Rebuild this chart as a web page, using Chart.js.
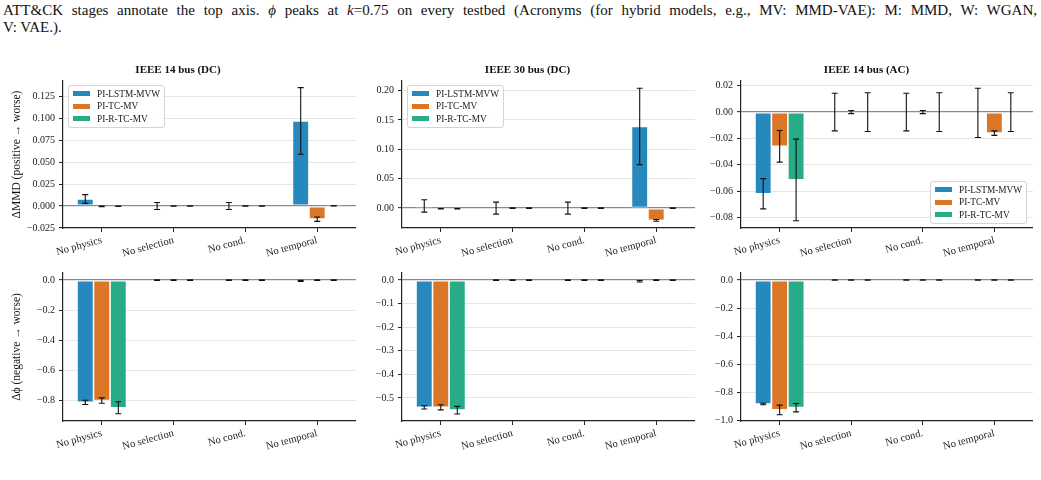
<!DOCTYPE html>
<html><head><meta charset="utf-8">
<script src="https://cdn.jsdelivr.net/npm/chart.js@4.4.1/dist/chart.umd.min.js"></script>
<style>
html,body{margin:0;padding:0;background:#fff;}
body{width:1041px;height:480px;position:relative;overflow:hidden;font-family:"Liberation Serif","DejaVu Serif","Times New Roman",serif;}
.cap{position:absolute;left:3px;width:1034px;font-size:15px;color:#111;line-height:17px;white-space:nowrap;}
#cap1{top:2px;text-align:justify;text-align-last:justify;white-space:normal;}
#cap2{top:19px;}
canvas{position:absolute;}
.lg{position:absolute;border:1px solid #d4d4d4;border-radius:3px;background:rgba(255,255,255,0.85);padding:1.5px 4px 2px 4px;font-size:9.3px;color:#222;font-family:"Liberation Serif","DejaVu Serif",serif;}
.lg .row{height:12.6px;display:flex;align-items:center;white-space:nowrap;}
.lg .sw{width:17px;height:5px;margin-right:7px;}
</style></head><body>
<div class="cap" id="cap1">ATT&amp;CK stages annotate the top axis. <i>ϕ</i> peaks at <i>k</i>=0.75 on every testbed (Acronyms (for hybrid models, e.g., MV: MMD-VAE): M: MMD, W: WGAN,</div>
<div class="cap" id="cap2">V: VAE.).</div>
<canvas id="c1"></canvas><canvas id="c2"></canvas><canvas id="c3"></canvas>
<canvas id="c4"></canvas><canvas id="c5"></canvas><canvas id="c6"></canvas>
<script>
// ---------- data ----------
const categories = ['No physics', 'No selection', 'No cond.', 'No temporal'];
const seriesNames = ['PI-LSTM-MVW', 'PI-TC-MV', 'PI-R-TC-MV'];
const panelTitles = ['IEEE 14 bus (DC)', 'IEEE 30 bus (DC)', 'IEEE 14 bus (AC)'];
const mmdLabel = 'ΔMMD (positive → worse)';
const phiLabel = 'Δϕ (negative → worse)';

// ΔMMD means / std (rows: PI-LSTM-MVW, PI-TC-MV, PI-R-TC-MV)
const mmd14dcMean = [[0.008, 0.0, 0.0, 0.097], [-0.0005, 0.0, 0.0, -0.015], [-0.0003, 0.0, 0.0, 0.0003]];
const mmd14dcErr  = [[0.005, 0.004, 0.004, 0.038], [0.0003, 0.0003, 0.0003, 0.0025], [0.0003, 0.0003, 0.0003, 0.0003]];
const mmd30dcMean = [[0.0037, 0.0, 0.0, 0.139], [-0.001, 0.0, 0.0, -0.021], [-0.001, 0.0, 0.0, 0.0]];
const mmd30dcErr  = [[0.0105, 0.0102, 0.0102, 0.065], [0.0004, 0.0004, 0.0004, 0.0015], [0.0004, 0.0004, 0.0004, 0.0004]];
const mmd14acMean = [[-0.062, 0.0, 0.0, -0.0006], [-0.026, 0.0, 0.0, -0.016], [-0.0515, 0.0, 0.0, 0.0]];
const mmd14acErr  = [[0.0115, 0.0143, 0.0143, 0.0187], [0.012, 0.0012, 0.0012, 0.0017], [0.031, 0.0147, 0.0147, 0.0147]];
// Δϕ means / std
const phi14dcMean = [[-0.816, 0.0, 0.0, -0.006], [-0.804, 0.0, 0.0, 0.0], [-0.852, 0.0, 0.0, 0.0]];
const phi14dcErr  = [[0.014, 0.002, 0.002, 0.004], [0.018, 0.002, 0.002, 0.002], [0.04, 0.002, 0.002, 0.002]];
const phi30dcMean = [[-0.54, 0.0, 0.0, -0.005], [-0.54, 0.0, 0.0, 0.0], [-0.552, 0.0, 0.0, 0.0]];
const phi30dcErr  = [[0.007, 0.0015, 0.0015, 0.003], [0.011, 0.0015, 0.0015, 0.0015], [0.016, 0.0015, 0.0015, 0.0015]];
const phi14acMean = [[-0.882, 0.0, 0.0, 0.0], [-0.924, 0.0, 0.0, 0.0], [-0.908, 0.0, 0.0, 0.0]];
const phi14acErr  = [[0.005, 0.002, 0.002, 0.002], [0.034, 0.002, 0.002, 0.002], [0.03, 0.002, 0.002, 0.002]];

// ---------- styles / layout ----------
const seriesColors = ['#2788bd', '#db7626', '#28ac88'];
const FONT = '"Liberation Serif", "DejaVu Serif", serif';
const cols = [{left: 0, width: 356, yW: 63}, {left: 360, width: 335, yW: 42}, {left: 700, width: 333, yW: 41}];
const rows = [{top: 60, height: 206, padTop: 0, xH: 38}, {top: 262, height: 208, padTop: 11, xH: 49}];

const panels = [
  {id: 'c1', r: 0, c: 0, mean: mmd14dcMean, err: mmd14dcErr, min: -0.0251, max: 0.1426, step: 0.025, dec: 3, title: panelTitles[0], ylabel: mmdLabel, legend: 'tl'},
  {id: 'c2', r: 0, c: 1, mean: mmd30dcMean, err: mmd30dcErr, min: -0.0339, max: 0.2164, step: 0.05, dec: 2, title: panelTitles[1], legend: 'tl'},
  {id: 'c3', r: 0, c: 2, mean: mmd14acMean, err: mmd14acErr, min: -0.088, max: 0.0236, step: 0.02, dec: 2, title: panelTitles[2], legend: 'br'},
  {id: 'c4', r: 1, c: 0, mean: phi14dcMean, err: phi14dcErr, min: -0.94, max: 0.047, step: 0.2, dec: 1, ylabel: phiLabel},
  {id: 'c5', r: 1, c: 1, mean: phi30dcMean, err: phi30dcErr, min: -0.598, max: 0.03, step: 0.1, dec: 1},
  {id: 'c6', r: 1, c: 2, mean: phi14acMean, err: phi14acErr, min: -1.003, max: 0.05, step: 0.2, dec: 1}
];

const errorBarPlugin = {
  id: 'errorBars',
  afterDatasetsDraw(chart) {
    const ctx = chart.ctx, ys = chart.scales.y;
    chart.data.datasets.forEach((ds, di) => {
      const meta = chart.getDatasetMeta(di);
      if (!ds.errors) return;
      meta.data.forEach((bar, i) => {
        const v = ds.data[i].y, e = ds.errors[i];
        const yt = ys.getPixelForValue(v + e), yb = ys.getPixelForValue(v - e);
        const x = bar.x;
        ctx.save();
        ctx.strokeStyle = '#111';
        ctx.lineWidth = 1.1;
        ctx.beginPath();
        ctx.moveTo(x, yt); ctx.lineTo(x, yb);
        ctx.moveTo(x - 3, yt); ctx.lineTo(x + 3, yt);
        ctx.moveTo(x - 3, yb); ctx.lineTo(x + 3, yb);
        ctx.stroke();
        ctx.restore();
      });
    });
  }
};

function fmt(v, dec) {
  if (Math.abs(v) < 1e-12) v = 0;
  const s = Math.abs(v).toFixed(dec);
  return (v < 0 ? '\u2212' : '') + s;
}

function buildLegend(chart, p, col, row) {
  const box = document.createElement('div');
  box.className = 'lg';
  chart.data.datasets.forEach(ds => {
    const r = document.createElement('div'); r.className = 'row';
    const sw = document.createElement('span'); sw.className = 'sw'; sw.style.background = ds.backgroundColor;
    const t = document.createElement('span'); t.textContent = ds.label;
    r.appendChild(sw); r.appendChild(t); box.appendChild(r);
  });
  const ca = chart.chartArea;
  if (p.legend === 'tl') {
    box.style.left = (col.left + ca.left + 5) + 'px';
    box.style.top = (row.top + ca.top + 4) + 'px';
  } else {
    box.style.right = (1041 - (col.left + ca.right - 6)) + 'px';
    box.style.bottom = (480 - (row.top + ca.bottom - 4)) + 'px';
  }
  document.body.appendChild(box);
}

panels.forEach(p => {
  const col = cols[p.c], row = rows[p.r];
  const cv = document.getElementById(p.id);
  cv.width = col.width; cv.height = row.height;
  cv.style.left = col.left + 'px'; cv.style.top = row.top + 'px';
  const datasets = seriesNames.map((name, si) => ({
    label: name,
    data: p.mean[si].map((v, i) => ({x: i, y: v})),
    errors: p.err[si],
    backgroundColor: seriesColors[si],
    borderColor: 'rgba(255,255,255,0.85)',
    borderWidth: 0.8,
    borderSkipped: false,
    categoryPercentage: 0.69,
    barPercentage: 1.0
  }));
  const chart = new Chart(cv, {
    type: 'bar',
    data: {datasets},
    plugins: [errorBarPlugin],
    options: {
      responsive: false,
      animation: false,
      devicePixelRatio: 1,
      layout: {padding: {top: p.r === 1 ? row.padTop : 0, left: 0, right: 0, bottom: 0}},
      plugins: {
        legend: {display: false},
        tooltip: {enabled: false},
        title: p.title ? {display: true, text: p.title, color: '#111', font: {family: FONT, size: 11, weight: 'bold'}, padding: {top: 3.4, bottom: 4.4}} : {display: false}
      },
      scales: {
        x: {
          type: 'linear', min: -0.54, max: 3.54, offset: false,
          grid: {display: true, drawOnChartArea: false, drawTicks: true, tickLength: 4, tickColor: '#222', tickWidth: 1, offset: false},
          border: {color: '#222', width: 1.2},
          ticks: {stepSize: 1, includeBounds: false, autoSkip: false, minRotation: 15, maxRotation: 15, padding: 2, color: '#222',
                  font: {family: FONT, size: 10.5}, callback: v => (Number.isInteger(v) && categories[v] !== undefined) ? categories[v] : ''},
          afterFit: s => { s.height = row.xH; }
        },
        y: {
          type: 'linear', min: p.min, max: p.max,
          grid: {
            color: c => Math.abs(c.tick.value) < 1e-12 ? '#8a8a8a' : '#e2e2e2',
            lineWidth: c => Math.abs(c.tick.value) < 1e-12 ? 1.3 : 0.9,
            tickColor: '#222', tickWidth: 1, tickLength: 4, drawTicks: true
          },
          border: {color: '#222', width: 1.2},
          ticks: {stepSize: p.step, includeBounds: false, color: '#222', padding: 4, font: {family: FONT, size: 10}, callback: v => fmt(v, p.dec)},
          title: p.ylabel ? {display: true, text: p.ylabel, color: '#111', font: {family: FONT, size: 11.5}, padding: {top: 10, bottom: 0}} : {display: false},
          afterFit: s => { s.width = col.yW; }
        }
      }
    }
  });
  if (p.legend) buildLegend(chart, p, col, row);
});
</script>
</body></html>
